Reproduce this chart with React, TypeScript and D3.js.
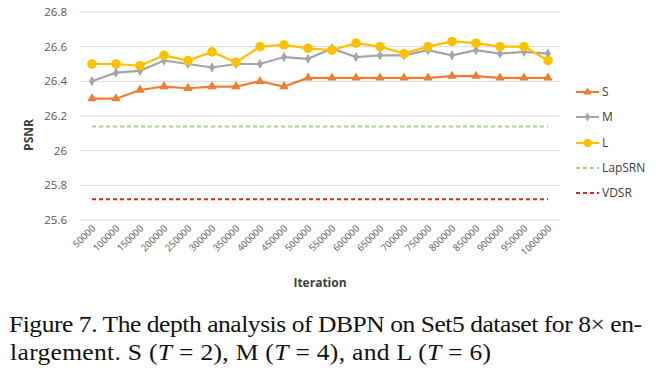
import React from "react";
import * as d3 from "d3";

const iterations = [
  "50000", "100000", "150000", "200000", "250000", "300000", "350000", "400000", "450000", "500000",
  "550000", "600000", "650000", "700000", "750000", "800000", "850000", "900000", "950000", "1000000",
];
const sValues = [26.30, 26.30, 26.35, 26.37, 26.36, 26.37, 26.37, 26.40, 26.37, 26.42, 26.42, 26.42, 26.42, 26.42, 26.42, 26.43, 26.43, 26.42, 26.42, 26.42];
const mValues = [26.40, 26.45, 26.46, 26.52, 26.50, 26.48, 26.50, 26.50, 26.54, 26.53, 26.59, 26.54, 26.55, 26.55, 26.58, 26.55, 26.58, 26.56, 26.57, 26.56];
const lValues = [26.50, 26.50, 26.49, 26.55, 26.52, 26.57, 26.51, 26.60, 26.61, 26.59, 26.58, 26.62, 26.60, 26.56, 26.60, 26.63, 26.62, 26.60, 26.60, 26.52];
const lapsrnValue = 26.14;
const vdsrValue = 25.72;
const yTicks = [25.6, 25.8, 26, 26.2, 26.4, 26.6, 26.8];
const legendLabels = ["S", "M", "L", "LapSRN", "VDSR"];

const W = 656, H = 370;
const left = 80, right = 560, top = 12, bottom = 220;
const font = "'Open Sans', 'Liberation Sans', sans-serif";

const ORANGE = "#ED7D31", GRAY = "#A5A5A5", GOLD = "#FFC000", GREEN = "#A9D18E", RED = "#E5202A";

const CAP_SX = 1.11;

export default function App() {
  const x = d3.scaleBand<string>().domain(iterations).range([left, right]);
  const cx = (d: string) => (x(d) as number) + x.bandwidth() / 2;
  const y = d3.scaleLinear().domain([25.6, 26.8]).range([bottom, top]);
  const line = d3.line<number>().x((_, i) => cx(iterations[i])).y((v) => y(v));
  const x0 = cx(iterations[0]), x1 = cx(iterations[iterations.length - 1]);

  const tri = d3.symbol().type(d3.symbolTriangle).size(38)() as string;
  const dia = d3.symbol().type(d3.symbolDiamond).size(30)() as string;

  const marker = (kind: string, px: number, py: number, key: any, scale = 1) => {
    if (kind === "S") return <path key={key} d={tri} transform={`translate(${px},${py}) scale(${scale})`} fill={ORANGE} />;
    if (kind === "M") return <path key={key} d={dia} transform={`translate(${px},${py}) scale(${scale})`} fill={GRAY} />;
    return <circle key={key} cx={px} cy={py} r={4.8 * scale} fill={GOLD} />;
  };

  const series = [
    { name: "S", vals: sValues, color: ORANGE },
    { name: "M", vals: mValues, color: GRAY },
    { name: "L", vals: lValues, color: GOLD },
  ];

  const legendY = [92, 117, 143, 168, 193];

  return (
    <svg width={W} height={H} style={{ position: "absolute", left: 0, top: 0, background: "#fff" }}>
      <rect width={W} height={H} fill="#fff" />
      {yTicks.map((t) => (
        <g key={t}>
          <line x1={left} x2={right} y1={y(t)} y2={y(t)} stroke="#D9D9D9" strokeWidth={1} />
          <text x={67} y={y(t)} dy="0.35em" textAnchor="end" fontFamily={font} fontSize={11.5} fill="#595959">{String(t)}</text>
        </g>
      ))}
      {iterations.map((it) => (
        <text key={it} transform={`translate(${cx(it) + 4},${229}) rotate(-45)`} textAnchor="end" fontFamily={font} fontSize={9.5} fill="#595959">{it}</text>
      ))}
      <text transform={`translate(33,135) rotate(-90)`} textAnchor="middle" fontFamily={font} fontSize={12} fontWeight="bold" fill="#404040">PSNR</text>
      <text x={320} y={287} textAnchor="middle" fontFamily={font} fontSize={12} fontWeight="bold" fill="#404040">Iteration</text>

      <line x1={x0} x2={x1} y1={y(lapsrnValue)} y2={y(lapsrnValue)} stroke={GREEN} strokeWidth={2} strokeDasharray="4,3" />
      <line x1={x0} x2={x1} y1={y(vdsrValue)} y2={y(vdsrValue)} stroke={RED} strokeWidth={2} strokeDasharray="4,3" />

      {series.map((s) => (
        <g key={s.name}>
          <path d={line(s.vals) as string} fill="none" stroke={s.color} strokeWidth={2.2} />
          {s.vals.map((v, i) => marker(s.name, cx(iterations[i]), y(v), i))}
        </g>
      ))}

      {legendLabels.map((lab, i) => {
        const ly = legendY[i];
        const isDash = i >= 3;
        const col = [ORANGE, GRAY, GOLD, GREEN, RED][i];
        return (
          <g key={lab}>
            <line x1={576} x2={599} y1={ly} y2={ly} stroke={col} strokeWidth={2} strokeDasharray={isDash ? "4,3" : undefined} />
            {!isDash && marker(lab, 587.5, ly, "m", 0.9)}
            <text x={602} y={ly} dy="0.35em" fontFamily={font} fontSize={12} fill="#404040">{lab}</text>
          </g>
        );
      })}

      <g transform={`translate(9,0) scale(${CAP_SX},1)`} fontFamily="'Liberation Serif', 'Times New Roman', serif" fontSize={23} fill="#111">
        <text x={0} y={332} textLength={633 / CAP_SX} lengthAdjust="spacing">Figure 7. The depth analysis of DBPN on Set5 dataset for 8× en-</text>
        <text x={1} y={360} textLength={481 / CAP_SX} lengthAdjust="spacing">
          largement. S (<tspan fontStyle="italic">T</tspan> = 2), M (<tspan fontStyle="italic">T</tspan> = 4), and L (<tspan fontStyle="italic">T</tspan> = 6)
        </text>
      </g>
    </svg>
  );
}
